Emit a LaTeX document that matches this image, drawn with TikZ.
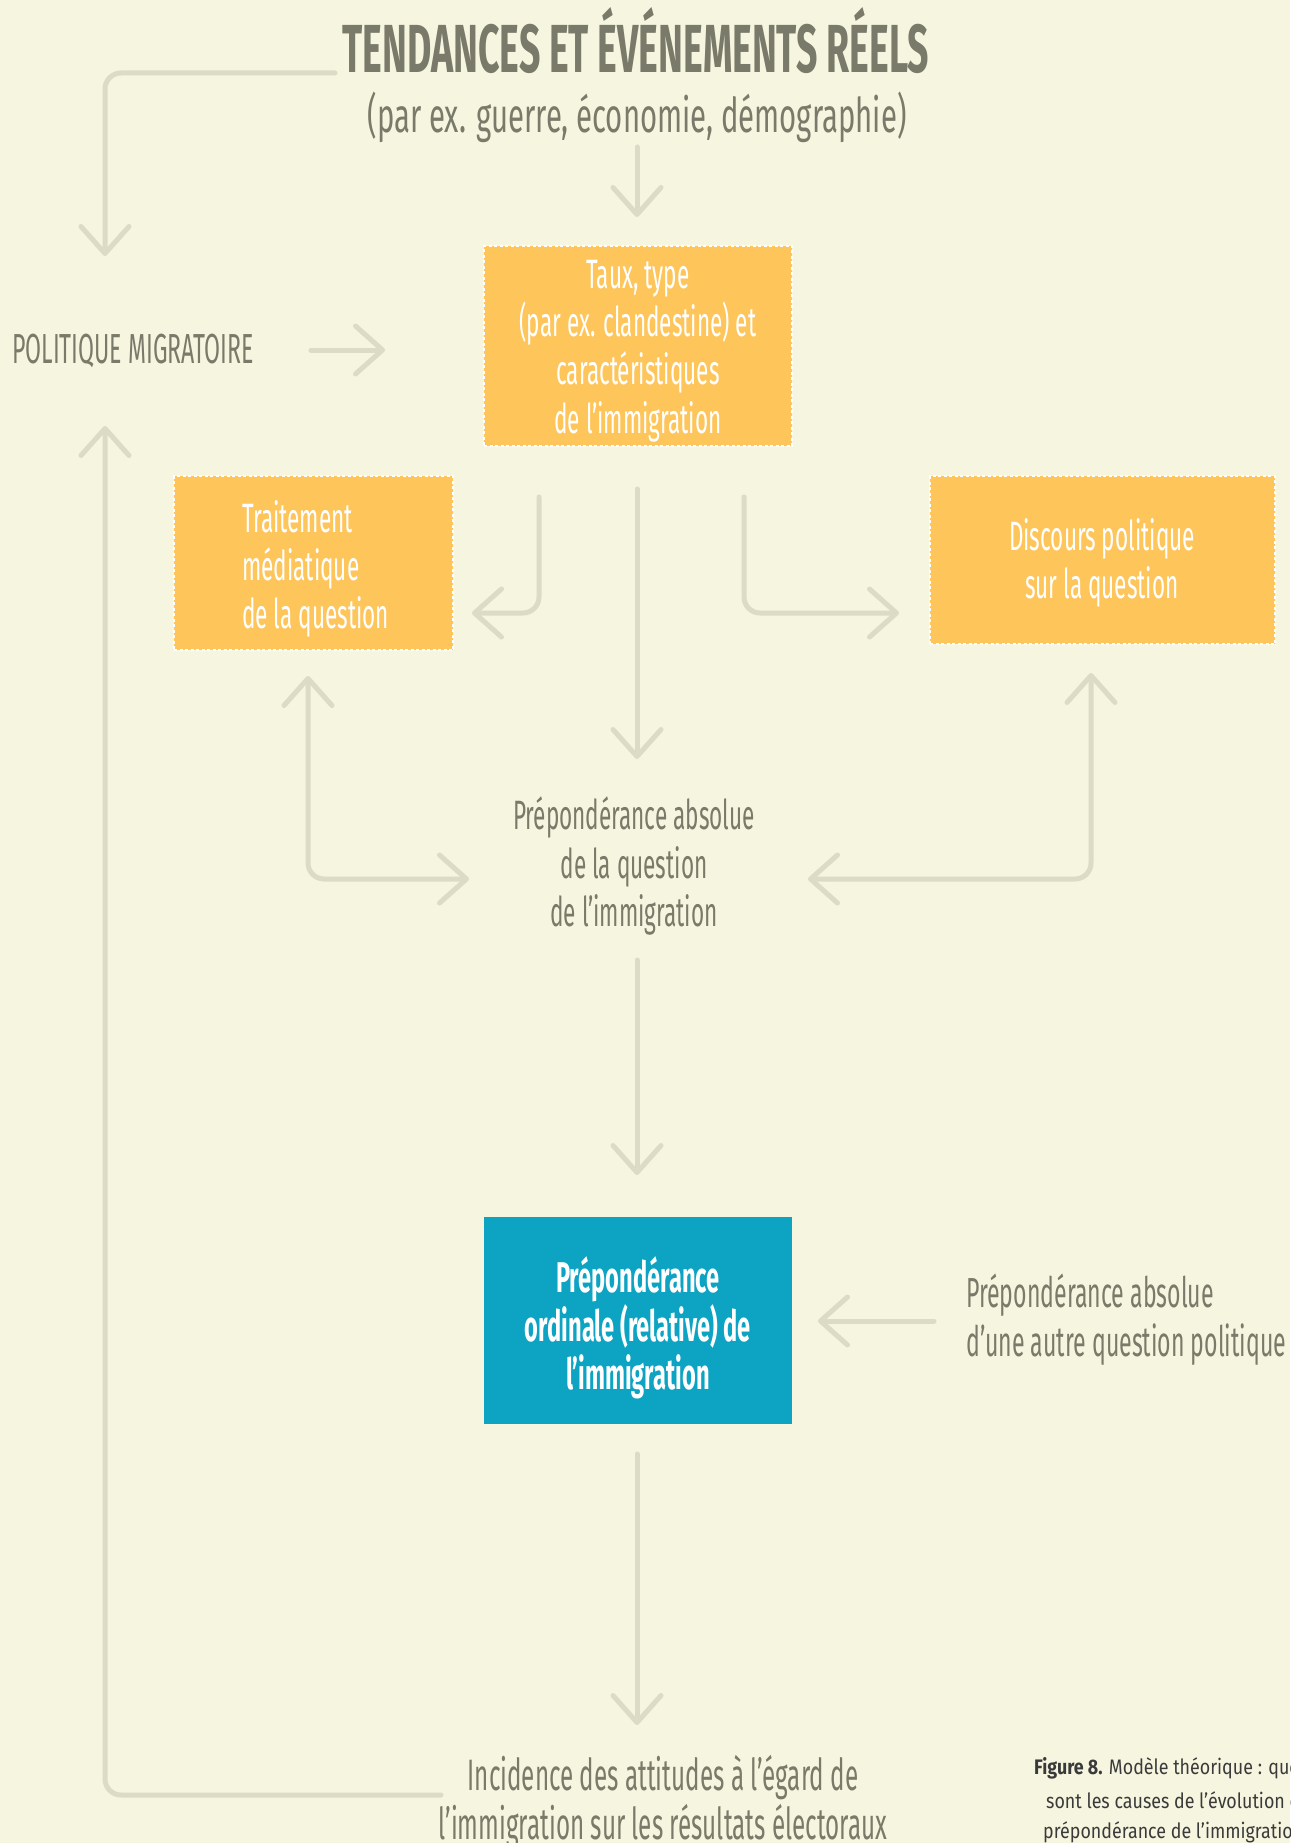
\documentclass[tikz,border=0pt]{standalone}
\usepackage{fontspec}
\usetikzlibrary{arrows.meta}
\newfontfamily\cf{Fira Sans}[FakeStretch=0.55]
\newfontfamily\subf{Fira Sans}[FakeStretch=0.61]
\newfontfamily\capf{Fira Sans}[FakeStretch=0.85]
\definecolor{bg}{HTML}{F6F5DF}
\definecolor{arrowc}{HTML}{DCDBC6}
\definecolor{txt}{HTML}{7A7A6A}
\definecolor{orangebox}{HTML}{FEC55B}
\definecolor{bluebox}{HTML}{0DA3C3}
\definecolor{captxt}{HTML}{3A3A3A}
\tikzset{
  arr/.style={draw=arrowc, line width=5pt, line cap=round, rounded corners=16pt,
    -{Straight Barb[length=27pt,width=48pt,round]}},
  darr/.style={draw=arrowc, line width=5pt, line cap=round, rounded corners=16pt,
    {Straight Barb[length=27pt,width=48pt,round]}-{Straight Barb[length=27pt,width=48pt,round]}},
  plain/.style={text=txt, font=\cf\fontsize{41}{48.3}\selectfont, inner sep=0pt},
  obox/.style={fill=orangebox, draw=white, line width=2pt, dash pattern=on 3pt off 2.5pt,
    inner sep=0pt, text=white, font=\cf\fontsize{41}{48.3}\selectfont},
  bbox/.style={fill=bluebox, draw=none, inner sep=0pt, text=white},
  captext/.style={text=captxt, font=\capf\fontsize{21}{32}\selectfont, inner sep=0pt, anchor=west}
}
\begin{document}
\begin{tikzpicture}[x=1pt,y=-1pt]
\fill[bg] (0,0) rectangle (1290,1843);
\useasboundingbox (0,0) rectangle (1290,1843);

% title
\node[text=txt, font=\cf\bfseries\fontsize{68}{70}\selectfont, inner sep=0pt] (title) at (636,41) {TENDANCES ET ÉVÉNEMENTS RÉELS};
\node[text=txt, font=\subf\fontsize{48}{52}\selectfont, inner sep=0pt] (sub) at (637,117) {(par ex. guerre, économie, démographie)};

% boxes
\node[obox, minimum width=308pt, minimum height=200pt] (taux) at (638,346) {};
\node[text=white, font=\cf\fontsize{41}{48.3}\selectfont, align=center, inner sep=0pt] (tauxtxt) at (638,351)
  {Taux, type\\(par ex. clandestine) et\\caractéristiques\\de l’immigration};
\node[obox, minimum width=279pt, minimum height=174pt] (media) at (313.5,563) {};
\node[text=white, font=\cf\fontsize{41}{48.3}\selectfont, align=left, anchor=west, inner sep=0pt] (mediatxt) at (242,569)
  {Traitement\\médiatique\\de la question};
\node[obox, minimum width=345pt, minimum height=168pt] (disc) at (1102.5,560) {};
\node[text=white, font=\cf\fontsize{41}{48.3}\selectfont, align=center, inner sep=0pt] (disctxt) at (1102,563)
  {Discours politique\\sur la question};
\node[bbox, minimum width=308pt, minimum height=207pt] (ordinal) at (638,1320.5) {};
\node[text=white, font=\cf\bfseries\fontsize{43}{48.3}\selectfont, align=center, inner sep=0pt] (ordtxt) at (638,1328)
  {Prépondérance\\ordinale (relative) de\\l’immigration};

% plain texts
\node[plain, font=\cf\fontsize{42}{48}\selectfont, anchor=west] (polit) at (12,351) {POLITIQUE MIGRATOIRE};
\node[plain, align=center] (absolue) at (634,866)
  {Prépondérance absolue\\de la question\\de l’immigration};
\node[plain, align=left, anchor=west, font=\cf\fontsize{42}{49}\selectfont] (autre) at (966,1320)
  {Prépondérance absolue\\d’une autre question politique};
\node[plain, align=center, font=\cf\fontsize{44}{48.5}\selectfont] (incid) at (663,1802)
  {Incidence des attitudes à l’égard de\\l’immigration sur les résultats électoraux};

% caption (runs off the right edge, as in the original)
\node[captext] (cap1) at (1034,1768) {\textbf{Figure 8.} Modèle théorique : quelles};
\node[captext] (cap2) at (1046,1800) {sont les causes de l’évolution de la};
\node[captext] (cap3) at (1043,1832) {prépondérance de l’immigration ?};

% connector end points
\coordinate (tl1) at (335,73);
\coordinate (tl2) at (105,73);
\coordinate (tl3) at (105,256);
\coordinate (s1) at (637,147);
\coordinate (s2) at (637,217);
\coordinate (p1) at (311,350);
\coordinate (p2) at (385,350);
\coordinate (m1) at (539,497);
\coordinate (m2) at (539,613);
\coordinate (m3) at (472,613);
\coordinate (d1) at (744,497);
\coordinate (d2) at (744,613);
\coordinate (d3) at (899,613);
\coordinate (c1) at (637,489);
\coordinate (c2) at (637,759);
\coordinate (lm1) at (308,676);
\coordinate (lm2) at (308,879);
\coordinate (lm3) at (469,879);
\coordinate (rd1) at (1091,673);
\coordinate (rd2) at (1091,879);
\coordinate (rd3) at (808,879);
\coordinate (a1) at (637,960);
\coordinate (a2) at (637,1175);
\coordinate (o1) at (934,1321);
\coordinate (o2) at (818,1321);
\coordinate (b1) at (637,1454);
\coordinate (b2) at (637,1725);
\coordinate (f1) at (441,1795);
\coordinate (f2) at (105,1795);
\coordinate (f3) at (105,426);

% connectors
\draw[arr] (tl1) -- (tl2) -- (tl3);
\draw[arr] (s1) -- (s2);
\draw[arr] (p1) -- (p2);
\draw[arr] (m1) -- (m2) -- (m3);
\draw[arr] (d1) -- (d2) -- (d3);
\draw[arr] (c1) -- (c2);
\draw[darr] (lm1) -- (lm2) -- (lm3);
\draw[darr] (rd1) -- (rd2) -- (rd3);
\draw[arr] (a1) -- (a2);
\draw[arr] (o1) -- (o2);
\draw[arr] (b1) -- (b2);
\draw[arr] (f1) -- (f2) -- (f3);
\end{tikzpicture}
\end{document}
